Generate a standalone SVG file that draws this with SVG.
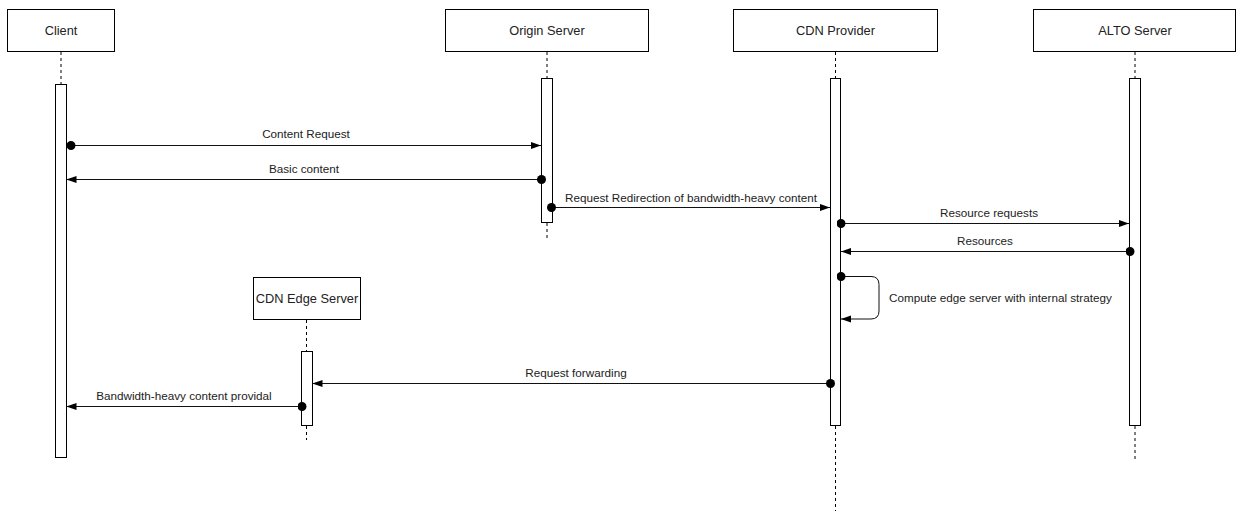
<svg xmlns="http://www.w3.org/2000/svg" width="1237" height="511" viewBox="0 0 1237 511">
  <style>
    .box { fill: #fff; stroke: #000; stroke-width: 1; }
    .act { fill: #fff; stroke: #000; stroke-width: 1; }
    .life { stroke: #000; stroke-width: 1; stroke-dasharray: 3 3; fill: none; }
    .title { font-family: "Liberation Sans", Arial, sans-serif; font-size: 12.8px; fill: #222; text-anchor: middle; }
    .msg { stroke: #111; stroke-width: 1; fill: none; marker-end: url(#head); marker-start: url(#dot); }
    .lbl { font-family: "Liberation Sans", Arial, sans-serif; font-size: 11.7px; fill: #222; }
    .mid { text-anchor: middle; }
  </style>
  <defs>
    <marker id="head" viewBox="0 0 10 10" refX="10" refY="5" markerWidth="10" markerHeight="10" markerUnits="userSpaceOnUse" orient="auto">
      <path d="M0,1.5 L10,5 L0,8.5 Z" fill="#000"/>
    </marker>
    <marker id="dot" viewBox="0 0 10 10" refX="5" refY="5" markerWidth="9" markerHeight="9" markerUnits="userSpaceOnUse" orient="auto">
      <circle cx="5" cy="5" r="5" fill="#000"/>
    </marker>
  </defs>

  <rect width="1237" height="511" fill="#fff"/>

  <!-- Client -->
  <g id="client">
    <rect class="box" x="7.5" y="9.5" width="107" height="42"/>
    <text class="title" x="61" y="35">Client</text>
    <path class="life" d="M61,52 V84"/>
    <rect class="act" x="55.5" y="84.5" width="11" height="373"/>
  </g>

  <!-- Origin Server -->
  <g id="origin-server">
    <rect class="box" x="445.5" y="9.5" width="203" height="42"/>
    <text class="title" x="547" y="35">Origin Server</text>
    <path class="life" d="M547,52 V78"/>
    <rect class="act" x="541.5" y="78.5" width="11" height="144"/>
    <path class="life" d="M547,223 V238"/>
  </g>

  <!-- CDN Provider -->
  <g id="cdn-provider">
    <rect class="box" x="733.5" y="9.5" width="204" height="42"/>
    <text class="title" x="835.5" y="35">CDN Provider</text>
    <path class="life" d="M835.5,52 V78"/>
    <rect class="act" x="830.5" y="78.5" width="10" height="347"/>
    <path class="life" d="M835.5,426 V511"/>
  </g>

  <!-- ALTO Server -->
  <g id="alto-server">
    <rect class="box" x="1033.5" y="9.5" width="202" height="42"/>
    <text class="title" x="1135" y="35">ALTO Server</text>
    <path class="life" d="M1135,52 V78"/>
    <rect class="act" x="1129.5" y="78.5" width="11" height="347"/>
    <path class="life" d="M1135,426 V459"/>
  </g>

  <!-- CDN Edge Server -->
  <g id="cdn-edge-server">
    <rect class="box" x="253.5" y="277.5" width="107" height="42"/>
    <text class="title" x="307" y="303">CDN Edge Server</text>
    <path class="life" d="M306.5,320 V351"/>
    <rect class="act" x="301.5" y="351.5" width="11" height="74"/>
    <path class="life" d="M306.5,426 V440"/>
  </g>

  <!-- Messages -->
  <g id="connectors">
    <path class="msg" d="M71,145.5 H541"/>
    <text class="lbl mid" x="306" y="138">Content Request</text>

    <path class="msg" d="M541.5,179.5 H66.5"/>
    <text class="lbl mid" x="304" y="173">Basic content</text>

    <path class="msg" d="M551.5,207.5 H830"/>
    <text class="lbl mid" x="691" y="202">Request Redirection of bandwidth-heavy content</text>

    <path class="msg" d="M841,223.5 H1129"/>
    <text class="lbl mid" x="989" y="217">Resource requests</text>

    <path class="msg" d="M1130,251.5 H841"/>
    <text class="lbl mid" x="985" y="245">Resources</text>

    <path class="msg" d="M841,276.5 H871 Q879,276.5 879,284.5 V311 Q879,319 871,319 H841"/>
    <text class="lbl" x="889" y="302">Compute edge server with internal strategy</text>

    <path class="msg" d="M830.5,383.5 H312.5"/>
    <text class="lbl mid" x="576" y="377">Request forwarding</text>

    <path class="msg" d="M302,406.5 H66.5"/>
    <text class="lbl mid" x="184" y="400">Bandwidth-heavy content providal</text>
  </g>
</svg>
